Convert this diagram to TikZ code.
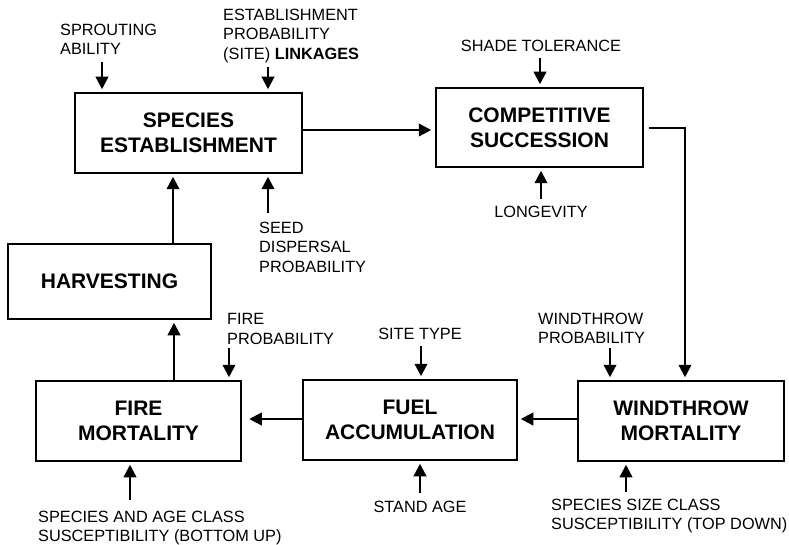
\documentclass[tikz,border=0pt]{standalone}
\usepackage{fontspec}
\setmainfont{Liberation Sans}
\usetikzlibrary{arrows.meta}
\begin{document}
\begin{tikzpicture}[x=1pt,y=-1pt,
  box/.style={draw, line width=2.5pt, inner sep=0pt, align=center,
    font=\fontsize{21}{25}\selectfont\bfseries},
  lbl/.style={inner sep=0pt, align=left, font=\fontsize{16.3}{19.5}\selectfont},
  flow/.style={line width=2.3pt, -{Triangle[length=12.5pt,width=12.5pt]}, shorten >=2.5pt}]
\useasboundingbox (0,0) rectangle (789,545);

% process boxes
\node[box, minimum width=227pt, minimum height=80pt] (SE) at (188.5,133) {SPECIES\\ESTABLISHMENT};
\node[box, minimum width=207pt, minimum height=79pt] (CS) at (539.5,127.5) {COMPETITIVE\\SUCCESSION};
\node[box, minimum width=203pt, minimum height=75pt] (HARV) at (109.5,281.5) {HARVESTING};
\node[box, minimum width=205pt, minimum height=80pt] (FIRE) at (138.5,421) {FIRE\\MORTALITY};
\node[box, minimum width=214pt, minimum height=80pt] (FUEL) at (410,420) {FUEL\\ACCUMULATION};
\node[box, minimum width=206pt, minimum height=80pt] (WIND) at (681,421) {WINDTHROW\\MORTALITY};

% driver labels
\node[lbl, anchor=north west] (sprout) at (60,23.5) {SPROUTING\\ABILITY};
\node[lbl, anchor=north west] (estprob) at (223,8.5) {ESTABLISHMENT\\PROBABILITY\\(SITE) \textbf{LINKAGES}};
\node[lbl, anchor=north west] (seed) at (259,221.5) {SEED\\DISPERSAL\\PROBABILITY};
\node[lbl, anchor=north] (shade) at (541,39.5) {SHADE TOLERANCE};
\node[lbl, anchor=north] (longev) at (541,205.5) {LONGEVITY};
\node[lbl, anchor=north west] (fireprob) at (227,313.5) {FIRE\\PROBABILITY};
\node[lbl, anchor=north] (site) at (420,327.5) {SITE TYPE};
\node[lbl, anchor=north] (stand) at (420,500.5) {STAND AGE};
\node[lbl, anchor=north west] (windprob) at (538,312.5) {WINDTHROW\\PROBABILITY};
\node[lbl, anchor=north west] (sizesus) at (551,498.5) {SPECIES SIZE CLASS\\SUSCEPTIBILITY (TOP DOWN)};
\node[lbl, anchor=north west] (agesus) at (38,510.5) {SPECIES AND AGE CLASS\\SUSCEPTIBILITY (BOTTOM UP)};

% tails of the driver arrows
\coordinate (tSprout) at (102,62);
\coordinate (tEst) at (268,67);
\coordinate (tSeed) at (268,213);
\coordinate (tShade) at (540,58);
\coordinate (tLong) at (541,199);
\coordinate (tFire) at (229,348);
\coordinate (tSite) at (421,346);
\coordinate (tStand) at (420,493);
\coordinate (tWind) at (610,348);
\coordinate (tSize) at (626,492);
\coordinate (tAge) at (130,500);

\draw[flow] (tSprout) -- (tSprout |- SE.north);
\draw[flow] (tEst) -- (tEst |- SE.north);
\draw[flow] (tSeed) -- (tSeed |- SE.south);
\draw[flow] (tShade) -- (tShade |- CS.north);
\draw[flow] (tLong) -- (tLong |- CS.south);
\draw[flow] (tFire) -- (tFire |- FIRE.north);
\draw[flow] (tSite) -- (tSite |- FUEL.north);
\draw[flow] (tStand) -- (tStand |- FUEL.south);
\draw[flow] (tWind) -- (tWind |- WIND.north);
\draw[flow] (tSize) -- (tSize |- WIND.south);
\draw[flow] (tAge) -- (tAge |- FIRE.south);

% main cycle
\draw[flow, shorten >=3.5pt] (SE.east |- 0,130) -- (CS.west |- 0,130);
\draw[flow, shorten <=5pt] (CS.east |- 0,128) -| (WIND.north -| 685,0);
\draw[flow] (WIND.west |- 0,419) -- (FUEL.east |- 0,419);
\draw[flow, shorten >=7pt] (FUEL.west |- 0,419) -- (FIRE.east |- 0,419);
\draw[flow] (FIRE.north -| 174,0) -- (HARV.south -| 174,0);
\draw[flow] (HARV.north -| 173,0) -- (SE.south -| 173,0);
\end{tikzpicture}
\end{document}
